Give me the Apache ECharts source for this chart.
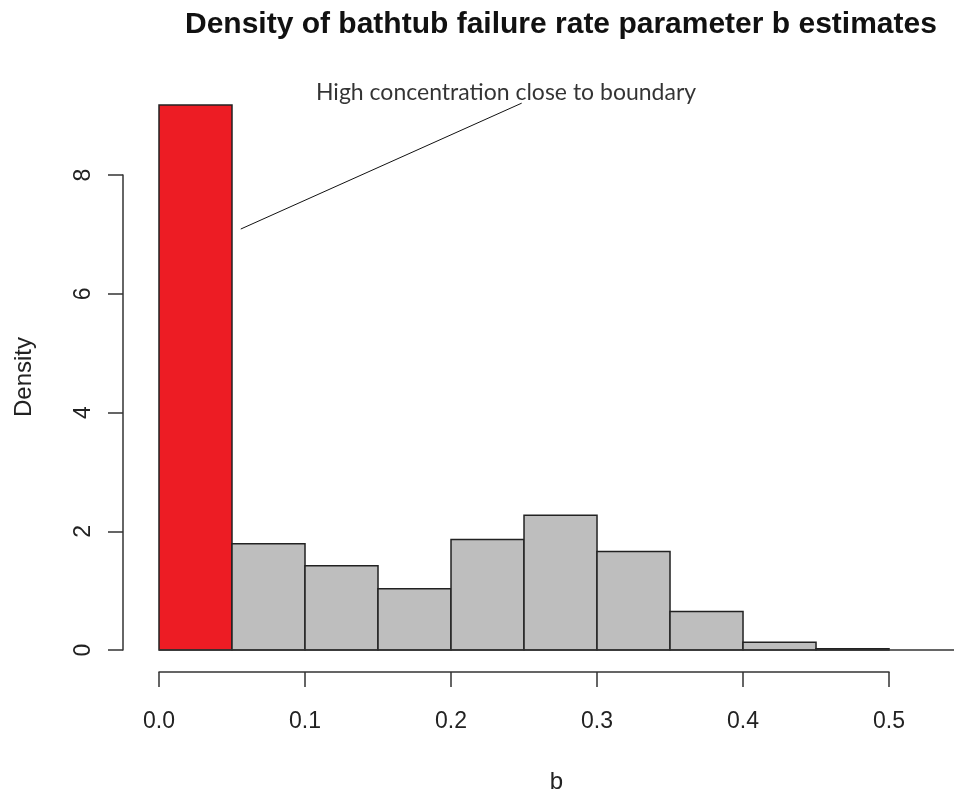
<!DOCTYPE html>
<html>
<head>
<meta charset="utf-8">
<title>Density of bathtub failure rate parameter b estimates</title>
<script src="https://cdn.jsdelivr.net/npm/echarts@6/dist/echarts.min.js"></script>
<style>
  html, body { margin: 0; padding: 0; background: #ffffff; }
  #chart { width: 954px; height: 792px; }
</style>
</head>
<body>
<div id="chart"></div>
<script>
// Histogram of estimated b values (bin width 0.05)
const binEdges = [0.00, 0.05, 0.10, 0.15, 0.20, 0.25, 0.30, 0.35, 0.40, 0.45, 0.50];
const densities = [9.18, 1.79, 1.42, 1.03, 1.86, 2.27, 1.66, 0.65, 0.13, 0.02];

// Axis ticks
const xTicks = [0.0, 0.1, 0.2, 0.3, 0.4, 0.5];
const yTicks = [0, 2, 4, 6, 8];

// Annotation: pointer segment from the first bin up to the note text
const noteText = 'High concentration close to boundary';
const notePoint = [0.2377, 9.38];
const pointerLine = [[0.0560, 7.09], [0.2484, 9.21]];

const FONT = "'Liberation Sans', Arial, sans-serif";
const AXIS_COLOR = '#333333';
const TEXT_COLOR = '#222222';

// Plot area extends a bit past the last tick, as in base R graphics
const xPlotMax = 0.5445;
const yPlotMax = 9.196;

const histData = densities.map((d, i) => [binEdges[i], binEdges[i + 1], d]);

const chart = echarts.init(document.getElementById('chart'), null, { renderer: 'canvas' });

chart.setOption({
  backgroundColor: '#ffffff',
  animation: false,
  title: {
    text: 'Density of bathtub failure rate parameter b estimates',
    left: 180,
    top: 5,
    textStyle: { fontFamily: FONT, fontSize: 30, fontWeight: 'bold', color: '#111111' }
  },
  grid: [
    { left: 159, right: 0, top: 104, bottom: 142, containLabel: false, outerBoundsMode: 'none' },
    { left: 159, width: 730, top: 175, bottom: 142, containLabel: false, outerBoundsMode: 'none' }
  ],
  xAxis: [
    {
      type: 'value', gridIndex: 0, min: 0, max: xPlotMax,
      axisLine: { show: false, onZero: false }, axisTick: { show: false },
      axisLabel: { show: false }, splitLine: { show: false },
      name: 'b', nameLocation: 'middle', nameGap: 120,
      nameTextStyle: { fontFamily: FONT, fontSize: 24, color: TEXT_COLOR }
    },
    {
      type: 'value', gridIndex: 1, min: xTicks[0], max: xTicks[xTicks.length - 1],
      interval: 0.1, offset: 22,
      axisLine: { show: true, onZero: false, lineStyle: { color: AXIS_COLOR, width: 1.5 } },
      axisTick: { show: true, length: 15, lineStyle: { color: AXIS_COLOR, width: 1.5 } },
      axisLabel: {
        show: true, margin: 38, fontFamily: FONT, fontSize: 23, color: TEXT_COLOR,
        formatter: v => v.toFixed(1)
      },
      splitLine: { show: false }
    }
  ],
  yAxis: [
    {
      type: 'value', gridIndex: 0, min: 0, max: yPlotMax,
      axisLine: { show: false, onZero: false }, axisTick: { show: false },
      axisLabel: { show: false }, splitLine: { show: false },
      name: 'Density', nameLocation: 'middle', nameGap: 123, nameRotate: 90,
      nameTextStyle: { fontFamily: FONT, fontSize: 24, color: TEXT_COLOR }
    },
    {
      type: 'value', gridIndex: 1, min: yTicks[0], max: yTicks[yTicks.length - 1],
      interval: 2, offset: 36,
      axisLine: { show: true, onZero: false, lineStyle: { color: AXIS_COLOR, width: 1.5 } },
      axisTick: { show: true, length: 15, lineStyle: { color: AXIS_COLOR, width: 1.5 } },
      axisLabel: {
        show: true, rotate: 90, margin: 28, fontFamily: FONT, fontSize: 23, color: TEXT_COLOR
      },
      splitLine: { show: false }
    }
  ],
  series: [
    {
      name: 'histogram',
      type: 'custom',
      xAxisIndex: 0,
      yAxisIndex: 0,
      clip: false,
      data: histData,
      renderItem: function (params, api) {
        const topLeft = api.coord([api.value(0), api.value(2)]);
        const bottomRight = api.coord([api.value(1), 0]);
        const boundaryBin = params.dataIndex === 0;
        return {
          type: 'rect',
          shape: {
            x: topLeft[0],
            y: topLeft[1],
            width: bottomRight[0] - topLeft[0],
            height: bottomRight[1] - topLeft[1]
          },
          style: {
            fill: boundaryBin ? '#ED1C24' : '#BEBEBE',
            stroke: '#222222',
            lineWidth: 1.5
          }
        };
      },
      markLine: {
        silent: true,
        symbol: 'none',
        label: { show: false },
        lineStyle: { color: AXIS_COLOR, width: 1.5, type: 'solid' },
        data: [{ yAxis: 0 }]
      }
    },
    {
      name: 'pointer',
      type: 'line',
      xAxisIndex: 0,
      yAxisIndex: 0,
      clip: false,
      symbol: 'none',
      lineStyle: { color: '#111111', width: 1 },
      data: pointerLine
    },
    {
      name: 'note',
      type: 'scatter',
      xAxisIndex: 0,
      yAxisIndex: 0,
      clip: false,
      symbolSize: 0,
      data: [notePoint],
      label: {
        show: true,
        position: 'inside',
        formatter: noteText,
        fontFamily: "Lato, 'Open Sans', sans-serif",
        fontSize: 23,
        color: '#000000'
      }
    }
  ]
});
</script>
</body>
</html>
